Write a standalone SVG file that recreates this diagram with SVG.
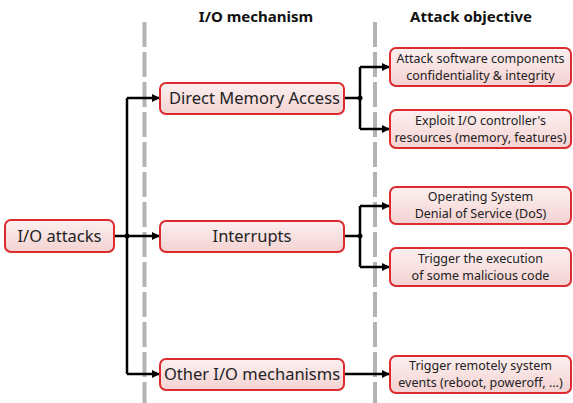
<svg xmlns="http://www.w3.org/2000/svg" width="573" height="403" viewBox="0 0 573 403">
<defs>
<linearGradient id="g" x1="0" y1="0" x2="0" y2="1">
<stop offset="0" stop-color="#fcf0f0"/>
<stop offset="1" stop-color="#f4d2d2"/>
</linearGradient>
<marker id="ah" viewBox="0 0 8 8" refX="7" refY="4" markerWidth="8" markerHeight="8" markerUnits="userSpaceOnUse" orient="auto">
<path d="M0,0 L8,4 L0,8 z" fill="#000"/>
</marker>
<style>
.box{fill:url(#g);stroke:#dc2a2e;stroke-width:2}
.t{font-family:"Noto Sans","Liberation Sans",sans-serif;fill:#222;text-anchor:middle}
.m{font-size:16.5px}
.s{font-size:12.5px}
.h{font-size:15px;font-weight:bold;fill:#111}
.c{fill:none;stroke:#000;stroke-width:2.5}
.a{marker-end:url(#ah)}
.sep{stroke:#b3b3b3;stroke-width:4;stroke-dasharray:25 5}
</style>
</defs>
<g id="separators">
<line class="sep" x1="144.5" y1="22" x2="144.5" y2="403"/>
<line class="sep" x1="375" y1="22" x2="375" y2="403"/>
</g>
<text class="t h" x="256" y="22">I/O mechanism</text>
<text class="t h" x="471" y="22">Attack objective</text>
<g id="connectors">
<line class="c" x1="114" y1="236" x2="127" y2="236"/>
<line class="c" x1="127" y1="98" x2="127" y2="374"/>
<path class="c a" d="M127,98 H159"/>
<path class="c a" d="M127,236 H159"/>
<path class="c a" d="M127,374 H159"/>
<circle cx="127" cy="236" r="2.5"/>
<line class="c" x1="344" y1="98" x2="360" y2="98"/>
<line class="c" x1="360" y1="67" x2="360" y2="129"/>
<path class="c a" d="M360,67 H389"/>
<path class="c a" d="M360,129 H389"/>
<circle cx="360" cy="98" r="2.5"/>
<line class="c" x1="344" y1="236" x2="360" y2="236"/>
<line class="c" x1="360" y1="206" x2="360" y2="267"/>
<path class="c a" d="M360,206 H389"/>
<path class="c a" d="M360,267 H389"/>
<circle cx="360" cy="236" r="2.5"/>
<path class="c a" d="M344,374 H389"/>
</g>
<g id="io-attacks">
<rect class="box" x="5" y="220" width="109" height="32" rx="6"/>
<text class="t m" x="59.5" y="242">I/O attacks</text>
</g>
<g id="dma">
<rect class="box" x="160" y="83" width="184" height="31" rx="6"/>
<text class="t m" x="254.5" y="104">Direct Memory Access</text>
</g>
<g id="interrupts">
<rect class="box" x="160" y="221" width="184" height="31" rx="6"/>
<text class="t m" x="252" y="242">Interrupts</text>
</g>
<g id="other">
<rect class="box" x="160" y="359" width="184" height="31" rx="6"/>
<text class="t m" x="252" y="380">Other I/O mechanisms</text>
</g>
<g id="obj-sw">
<rect class="box" x="390" y="48" width="181" height="38" rx="6"/>
<text class="t s" x="480.5" y="63">Attack software components</text>
<text class="t s" x="480.5" y="80">confidentiality &amp; integrity</text>
</g>
<g id="obj-exploit">
<rect class="box" x="390" y="110" width="181" height="38" rx="6"/>
<text class="t s" x="480.5" y="125">Exploit I/O controller's</text>
<text class="t s" x="480.5" y="142">resources (memory, features)</text>
</g>
<g id="obj-dos">
<rect class="box" x="390" y="187" width="181" height="37" rx="6"/>
<text class="t s" x="480.5" y="201">Operating System</text>
<text class="t s" x="480.5" y="218">Denial of Service (DoS)</text>
</g>
<g id="obj-exec">
<rect class="box" x="390" y="248" width="181" height="38" rx="6"/>
<text class="t s" x="480.5" y="263">Trigger the execution</text>
<text class="t s" x="480.5" y="280">of some malicious code</text>
</g>
<g id="obj-remote">
<rect class="box" x="390" y="356" width="181" height="37" rx="6"/>
<text class="t s" x="480.5" y="370">Trigger remotely system</text>
<text class="t s" x="480.5" y="387">events (reboot, poweroff, ...)</text>
</g>
</svg>
